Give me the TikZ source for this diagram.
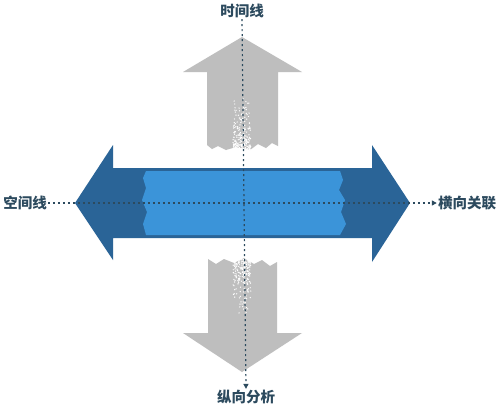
\documentclass[tikz,border=0pt]{standalone}
\usepackage{fontspec}
\newfontfamily\cjk{Noto Sans CJK SC}
\usetikzlibrary{arrows.meta}
\definecolor{grayA}{HTML}{BEBEBE}
\definecolor{darkblue}{HTML}{2A6497}
\definecolor{lightblue}{HTML}{3B94D9}
\definecolor{txt}{HTML}{2C4A5E}
\begin{document}
\begin{tikzpicture}[x=1pt,y=-1pt,
  lbl/.style={font=\cjk\bfseries\fontsize{14.5}{16}\selectfont, text=txt, inner sep=1pt},
  speck/.style={fill=white},
  guide/.style={txt, line width=1.2pt, dash pattern=on 2pt off 3pt, -{Triangle[length=5pt,width=5pt]}}]
\useasboundingbox (0,0) rectangle (500,410);
\fill[white] (0,0) rectangle (500,410);
% vertical gray arrows
\fill[grayA] (242,37) -- (302,72) -- (278,72) -- (278,146) -- (272,143) -- (266,148) -- (258,144) -- (250,150) -- (236,147) -- (226,150) -- (218,146) -- (212,149) -- (207,145) -- (207,72) -- (183,72) -- cycle;
\fill[grayA] (242,372) -- (302,333) -- (277,333) -- (277,262) -- (270,266) -- (262,260) -- (254,264) -- (244,258) -- (234,263) -- (224,259) -- (216,264) -- (208,259) -- (208,333) -- (183,333) -- cycle;
% speckled white strip
\pgfmathsetseed{7}
\foreach \i in {1,...,260}{
  \pgfmathsetmacro\xx{242+9*rand}
  \pgfmathsetmacro\yy{152-60*rnd*rnd}
  \fill[speck] (\xx,\yy) circle (0.7pt);
}
\foreach \i in {1,...,260}{
  \pgfmathsetmacro\xx{242+9*rand}
  \pgfmathsetmacro\yy{256+60*rnd*rnd}
  \fill[speck] (\xx,\yy) circle (0.7pt);
}
% horizontal arrow
\fill[darkblue] (75,203) -- (113,145) -- (113,168) -- (372,168) -- (372,145) -- (410,203) -- (372,262) -- (372,238) -- (113,238) -- (113,260) -- cycle;
\fill[lightblue] (146,171) -- (340,171) -- (343,180) -- (339,190) -- (345,200) -- (341,212) -- (346,224) -- (340,235) -- (146,235) -- (143,224) -- (147,212) -- (142,200) -- (146,188) -- (143,178) -- cycle;
% labels
\node[lbl] (t) at (242,11) {时间线};
\node[lbl] (b) at (246,397) {纵向分析};
\node[lbl] (l) at (25,203) {空间线};
\node[lbl] (r) at (467,203) {横向关联};
% guide lines
\draw[guide] (t.south) -- (b.north);
\draw[guide] (l.east) -- (r.west);
\end{tikzpicture}
\end{document}
